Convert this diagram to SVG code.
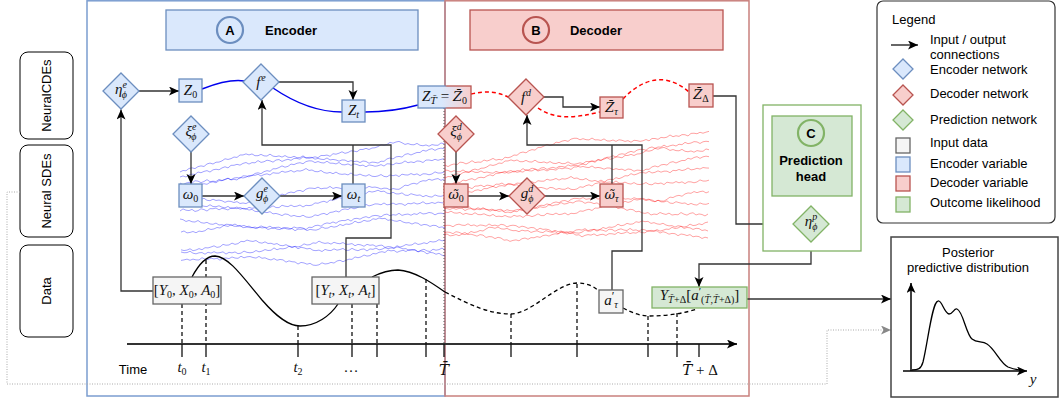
<svg xmlns="http://www.w3.org/2000/svg" width="1060" height="402" viewBox="0 0 1060 402">
  <style>
    .sans { font-family: "Liberation Sans", Arial, sans-serif; font-size: 13px; fill: #000; }
    .bold { font-weight: bold; }
    .m { font-family: "Liberation Serif", "DejaVu Serif", serif; font-size: 15px; fill: #111; }
    .acc { font-family: "DejaVu Serif", serif; }
    .i { font-style: italic; }
    .s { font-size: 10px; }
    .enc { fill: #dae8fc; stroke: #6c8ebf; stroke-width: 1.3; }
    .dec { fill: #f8cecc; stroke: #b85450; stroke-width: 1.3; }
    .prd { fill: #d5e8d4; stroke: #82b366; stroke-width: 1.3; }
    .inp { fill: #f5f5f5; stroke: #666; stroke-width: 1.3; }
    .wire { fill: none; stroke: #333; stroke-width: 1.3; }
    .arr { marker-end: url(#ah); }
    .drop { fill: none; stroke: #111; stroke-width: 1.3; stroke-dasharray: 4 3; }
    .tick { stroke: #111; stroke-width: 1.3; }
    .bw { fill: none; stroke: #0000ff; stroke-opacity: 0.45; stroke-width: 0.8; stroke-linejoin: round; }
    .rw { fill: none; stroke: #ff0000; stroke-opacity: 0.45; stroke-width: 0.8; stroke-linejoin: round; }
  </style>
  <defs>
    <marker id="ah" markerUnits="userSpaceOnUse" markerWidth="11" markerHeight="10" refX="10" refY="4.5" orient="auto">
      <path d="M0,0 L10,4.5 L0,9 L2.5,4.5 Z" fill="#000"/>
    </marker>
    <marker id="ahg" markerUnits="userSpaceOnUse" markerWidth="11" markerHeight="10" refX="10" refY="4.5" orient="auto">
      <path d="M0,0 L10,4.5 L0,9 L2.5,4.5 Z" fill="#888"/>
    </marker>
    <path id="dm" d="M0,-18 L18,0 L0,18 L-18,0 Z"/>
    <path id="dms" d="M0,-10 L10,0 L0,10 L-10,0 Z"/>
    <linearGradient id="split" x1="0" y1="0" x2="1" y2="0">
      <stop offset="0.45" stop-color="#dae8fc"/>
      <stop offset="1" stop-color="#f8cecc"/>
    </linearGradient>
    <linearGradient id="splitStroke" x1="0" y1="0" x2="1" y2="0">
      <stop offset="0.5" stop-color="#6c8ebf"/>
      <stop offset="0.55" stop-color="#b85450"/>
    </linearGradient>
    <!-- four base random-walk traces, 88 steps of 3px each -->
    <path id="wa" d="M0,0 l3 -1.2 3 0.6 3 -2.0 3 -0.3 3 1.1 3 -1.7 3 -0.4 3 0.9 3 -2.2 3 -0.6 3 1.3 3 -1.5 3 0.2 3 -0.9 3 -1.8 3 1.0 3 -0.5 3 -1.3 3 0.7 3 -2.1 3 0.3 3 -0.8 3 1.4 3 -0.7 3 2.1 3 0.3 3 -1.0 3 1.8 3 0.5 3 -1.6 3 2.3 3 0.8 3 -0.4 3 1.5 3 -1.2 3 2.0 3 0.6 3 -0.9 3 1.7 3 0.2 3 -1.4 3 2.2 3 0.9 3 -0.3 3 -0.6 3 1.2 3 -1.9 3 0.4 3 -0.2 3 1.6 3 -2.3 3 0.8 3 -0.7 3 -1.1 3 1.9 3 -0.5 3 -1.4 3 0.6 3 1.0 3 -2.0 3 0.3 3 -0.8 3 1.5 3 -1.2 3 0.1 3 -0.9 3 -1.5 3 0.7 3 -0.4 3 -1.8 3 1.2 3 -0.9 3 -0.3 3 1.7 3 2.0 3 -0.6 3 1.4 3 0.5 3 -1.1 3 2.2 3 0.8 3 -0.5 3 1.6 3 -1.3 3 0.9 3 0.4 3 -2.0 3 1.1"/>
    <path id="wb" d="M0,0 l3 0.8 3 -1.3 3 1.9 3 0.4 3 -0.6 3 2.2 3 -1.0 3 1.1 3 0.5 3 -1.7 3 2.0 3 0.3 3 -0.8 3 1.6 3 0.9 3 -1.4 3 2.3 3 -0.2 3 0.7 3 -1.1 3 1.5 3 0.6 3 -1.8 3 1.2 3 -0.5 3 2.0 3 -2.1 3 0.4 3 1.3 3 -0.9 3 -1.6 3 1.9 3 0.2 3 -2.2 3 1.1 3 0.6 3 -1.4 3 1.7 3 -0.3 3 -1.0 3 2.1 3 -1.5 3 0.5 3 -0.4 3 -2.0 3 0.5 3 -1.1 3 -0.6 3 1.4 3 -2.3 3 0.3 3 -0.8 3 -1.5 3 1.0 3 -0.4 3 -1.9 3 0.8 3 -1.2 3 0.2 3 -1.7 3 1.3 3 -0.7 3 -2.1 3 0.9 3 -0.5 3 -1.0 3 1.6 3 -0.4 3 2.2 3 0.7 3 -1.3 3 1.8 3 0.2 3 -0.9 3 2.4 3 0.5 3 -1.6 3 1.1 3 0.9 3 -0.3 3 2.0 3 -1.2 3 1.4 3 0.6 3 -2.0 3 1.3 3 0.4 3 -0.8"/>
    <path id="wc" d="M0,0 l3 2.0 3 -1.4 3 -0.5 3 1.1 3 -2.2 3 0.7 3 1.8 3 -0.9 3 -1.6 3 2.3 3 -0.2 3 0.6 3 -1.9 3 1.4 3 -0.7 3 -1.2 3 2.1 3 -0.4 3 1.0 3 -2.4 3 0.9 3 -0.5 3 -1.5 3 0.6 3 -2.1 3 -0.4 3 1.2 3 -1.8 3 -0.7 3 0.9 3 -2.3 3 0.3 3 -1.0 3 -1.4 3 1.6 3 -0.6 3 -2.0 3 0.8 3 -1.1 3 -0.3 3 1.3 3 -1.9 3 -0.5 3 0.4 3 1.9 3 -0.8 3 1.4 3 0.6 3 -1.5 3 2.2 3 0.3 3 1.0 3 -1.2 3 2.4 3 0.5 3 -0.7 3 1.8 3 -1.3 3 0.9 3 1.5 3 -0.4 3 2.0 3 -1.6 3 0.7 3 1.1 3 -0.2 3 -0.9 3 1.7 3 -2.0 3 0.4 3 1.2 3 -1.6 3 0.8 3 -0.3 3 -1.8 3 2.1 3 -0.6 3 1.0 3 -1.4 3 0.5 3 1.6 3 -2.2 3 0.2 3 0.9 3 -1.1 3 1.3 3 -0.7 3 -0.4"/>
    <path id="wd" d="M0,0 l3 -0.7 3 -1.9 3 1.0 3 -1.4 3 -0.3 3 1.5 3 -2.2 3 -0.6 3 0.8 3 -1.7 3 -0.4 3 1.2 3 -2.0 3 0.3 3 -1.1 3 -0.8 3 1.6 3 -1.5 3 -0.2 3 0.9 3 -2.3 3 0.4 3 1.1 3 -1.6 3 0.5 3 -0.9 3 2.0 3 -1.3 3 -0.5 3 1.4 3 -2.1 3 0.7 3 0.2 3 -1.8 3 1.3 3 -0.4 3 -1.0 3 1.9 3 -1.2 3 0.6 3 -0.7 3 -1.5 3 2.2 3 -0.3 3 1.8 3 0.4 3 -1.1 3 2.3 3 0.9 3 -0.6 3 1.5 3 -1.4 3 2.0 3 0.7 3 -0.2 3 1.2 3 -1.8 3 2.4 3 0.3 3 -0.9 3 1.6 3 0.8 3 -1.3 3 1.9 3 0.5 3 -0.4 3 -1.2 3 2.1 3 0.6 3 -1.7 3 1.0 3 -0.5 3 1.8 3 -2.2 3 0.9 3 0.4 3 -1.3 3 1.5 3 -0.8 3 2.0 3 -1.6 3 0.3 3 1.1 3 -0.6 3 -1.9 3 1.4 3 0.2 3 -0.7"/>
  </defs>

  <rect width="1060" height="402" fill="#fff"/>

  <!-- encoder / decoder panels -->
  <g id="panels">
    <rect x="87" y="0.8" width="358" height="395.2" fill="none" stroke="#7b9dd0" stroke-width="1.5"/>
    <rect x="445" y="0.8" width="304" height="395.2" fill="none" stroke="#c9807d" stroke-width="1.5"/>
  </g>

  <g id="encoder-header">
    <rect x="166" y="10" width="252" height="40" class="enc"/>
    <circle cx="230" cy="30" r="13" fill="#dae8fc" stroke="#6c8ebf" stroke-width="2.2"/>
    <text x="230" y="34.5" text-anchor="middle" class="sans bold">A</text>
    <text x="291" y="34.5" text-anchor="middle" class="sans bold">Encoder</text>
  </g>
  <g id="decoder-header">
    <rect x="470" y="10" width="253" height="40" class="dec"/>
    <circle cx="536" cy="30" r="13" fill="#f8cecc" stroke="#b85450" stroke-width="2.2"/>
    <text x="536" y="34.5" text-anchor="middle" class="sans bold">B</text>
    <text x="596" y="34.5" text-anchor="middle" class="sans bold">Decoder</text>
  </g>

  <!-- row labels -->
  <g id="row-cde">
    <rect x="20" y="52" width="53" height="87" rx="8" fill="#fff" stroke="#000" stroke-width="1"/>
    <text transform="translate(51,95.5) rotate(-90)" text-anchor="middle" class="sans">NeuralCDEs</text>
  </g>
  <g id="row-sde">
    <rect x="20" y="145" width="53" height="92" rx="8" fill="#fff" stroke="#000" stroke-width="1"/>
    <text transform="translate(51,191) rotate(-90)" text-anchor="middle" class="sans">Neural SDEs</text>
  </g>
  <g id="row-data">
    <rect x="20" y="245" width="53" height="92" rx="8" fill="#fff" stroke="#000" stroke-width="1"/>
    <text transform="translate(51,291) rotate(-90)" text-anchor="middle" class="sans">Data</text>
  </g>

  <!-- sample paths of the latent SDEs -->
  <g id="encoder-paths" class="bw">
    <use href="#wa" transform="translate(180,172) skewY(-6)"/>
    <use href="#wb" transform="translate(180,177) skewY(-5) scale(1,-1)"/>
    <use href="#wc" transform="translate(180,183) skewY(-5)"/>
    <use href="#wd" transform="translate(180,190) skewY(-4)"/>
    <use href="#wa" transform="translate(180,197) skewY(-4) scale(1,-1)"/>
    <use href="#wb" transform="translate(180,204) skewY(-3)"/>
    <use href="#wc" transform="translate(180,211) skewY(-2) scale(1,-1)"/>
    <use href="#wd" transform="translate(180,219) skewY(-1) scale(1,-1)"/>
    <use href="#wa" transform="translate(445,228) scale(-1,1) skewY(1)"/>
    <use href="#wb" transform="translate(445,240) scale(-1,1) skewY(1)"/>
    <use href="#wc" transform="translate(445,250) scale(-1,-1) skewY(-2)"/>
    <use href="#wd" transform="translate(445,256) scale(-1,1) skewY(-1)"/>
  </g>
  <g id="decoder-paths" class="rw">
    <use href="#wc" transform="translate(445,165) skewY(-7)"/>
    <use href="#wd" transform="translate(445,170) skewY(-6) scale(1,-1)"/>
    <use href="#wa" transform="translate(445,178) skewY(-6)"/>
    <use href="#wb" transform="translate(445,185) skewY(-5) scale(1,-1)"/>
    <use href="#wc" transform="translate(445,190) skewY(-5) scale(1,-1)"/>
    <use href="#wd" transform="translate(445,198) skewY(-4)"/>
    <use href="#wa" transform="translate(445,205) skewY(-3) scale(1,-1)"/>
    <use href="#wb" transform="translate(445,212) skewY(-3)"/>
    <use href="#wc" transform="translate(708,214) scale(-1,1) skewY(-1)"/>
    <use href="#wd" transform="translate(708,222) scale(-1,-1) skewY(-1)"/>
    <use href="#wa" transform="translate(708,231) scale(-1,1) skewY(1)"/>
    <use href="#wb" transform="translate(708,238) scale(-1,-1)"/>
  </g>

  <!-- time axis with sampling instants -->
  <g id="time-axis">
    <line x1="127" y1="344" x2="737" y2="344" stroke="#333" stroke-width="2" marker-end="url(#ah)"/>
    <path class="tick" d="M182,344V357 M206,344V357 M298,344V357 M352,344V357 M377,344V357 M426,344V357 M444,344V357 M511,344V357 M577,344V357 M648,344V357 M677,344V357 M699,344V357"/>
    <path class="drop" d="M182,304V344 M206,260V344 M298,326V344 M352,304V344 M377,304V344 M426,279V344 M511,314V344 M577,284V344 M648,316V344 M677,313V344"/>
    <line x1="444" y1="108" x2="444" y2="344" stroke="#555" stroke-width="1" stroke-dasharray="1 2"/>
    <text x="133" y="374" text-anchor="middle" class="sans">Time</text>
    <text x="182" y="372" text-anchor="middle" class="m i">t<tspan class="s" font-style="normal" dy="3">0</tspan></text>
    <text x="206" y="372" text-anchor="middle" class="m i">t<tspan class="s" font-style="normal" dy="3">1</tspan></text>
    <text x="298" y="372" text-anchor="middle" class="m i">t<tspan class="s" font-style="normal" dy="3">2</tspan></text>
    <text x="351" y="372" text-anchor="middle" class="m">…</text>
    <text x="444" y="375" text-anchor="middle" class="m i"><tspan class="acc">T̄</tspan></text>
    <text x="700" y="375" text-anchor="middle" class="m"><tspan class="i acc">T̄</tspan> + Δ</text>
  </g>

  <!-- observed trajectory -->
  <g id="trajectory" fill="none" stroke="#000" stroke-width="1.3">
    <path d="M192,277 C200,262 207,256 215,256 C229,257 242,276 262,300 C276,316 288,326 300,326 C316,326 330,316 338,304"/>
    <path d="M372,277 C382,272 390,270 398,270 C415,271 432,283 445,292"/>
    <path stroke-dasharray="4 3" d="M445,292 C470,305 490,314 510,314 C532,314 555,284 577,283 C590,283 595,288 599,291"/>
    <path stroke-dasharray="4 3" d="M623,308 C633,313 640,316 650,316 C668,316 685,313 697,309"/>
  </g>

  <!-- connectors -->
  <g id="connectors">
    <path class="wire arr" d="M153,291 H121 V109.5"/>
    <path class="wire arr" d="M139,91 H179"/>
    <path class="wire arr" d="M278,82 H353 V100"/>
    <path class="wire arr" d="M346,277 V238 H391 V145 H262 V100"/>
    <path class="wire" d="M353,184 V145"/>
    <path class="wire arr" d="M191,152 V184"/>
    <path class="wire arr" d="M202,196 H244"/>
    <path class="wire arr" d="M280,196 H342"/>
    <path class="wire arr" d="M456,152 V184"/>
    <path class="wire arr" d="M468,196 H509"/>
    <path class="wire arr" d="M545,196 H600"/>
    <path class="wire arr" d="M544,97 H563 V107 H600"/>
    <path class="wire arr" d="M612,290 V251 H642 V145 H527 V115"/>
    <path class="wire" d="M612,184 V145"/>
    <path class="wire arr" d="M713,96 H736 V224 H793"/>
    <path class="wire arr" d="M811,242 V264 H699 V287"/>
    <path class="wire arr" d="M747,299 H891" stroke="#555"/>
    <path d="M20,192 H7 V384 H827 V330 H891" fill="none" stroke="#aaa" stroke-width="1" stroke-dasharray="1 1.5" marker-end="url(#ahg)"/>
    <!-- latent CDE trajectories -->
    <path d="M202,89 C215,84 230,79 244,81" fill="none" stroke="#0000ee" stroke-width="1.5"/>
    <path d="M273,88 C295,103 320,112 342,112" fill="none" stroke="#0000ee" stroke-width="1.5"/>
    <path d="M365,112 C385,112 400,110 418,105" fill="none" stroke="#0000ee" stroke-width="1.5"/>
    <path d="M471,94 C485,91 496,91 508,97" fill="none" stroke="#ff0000" stroke-width="1.5" stroke-dasharray="4 3"/>
    <path d="M538,108 C555,120 575,118 600,112" fill="none" stroke="#ff0000" stroke-width="1.5" stroke-dasharray="4 3"/>
    <path d="M623,99 C635,86 650,78 665,80 C677,82 684,88 689,92" fill="none" stroke="#ff0000" stroke-width="1.5" stroke-dasharray="4 3"/>
  </g>

  <!-- encoder nodes -->
  <g id="eta-e">
    <use href="#dm" x="121" y="91" class="enc"/>
    <text x="121" y="94" text-anchor="middle" class="m i">η<tspan class="s" dy="-6">e</tspan><tspan class="s" dx="-5" dy="10">ϕ</tspan></text>
  </g>
  <g id="z0">
    <rect x="179" y="79" width="23" height="23" class="enc"/>
    <text x="190.5" y="95" text-anchor="middle" class="m"><tspan class="i">Z</tspan><tspan class="s" dy="3">0</tspan></text>
  </g>
  <g id="f-e">
    <use href="#dm" x="261" y="82" class="enc"/>
    <text x="261" y="87" text-anchor="middle" class="m i">f<tspan class="s" dx="1" dy="-6">e</tspan></text>
  </g>
  <g id="zt">
    <rect x="342" y="100" width="23" height="22" class="enc"/>
    <text x="353.5" y="115" text-anchor="middle" class="m i">Z<tspan class="s" dy="3">t</tspan></text>
  </g>
  <g id="xi-e">
    <use href="#dm" x="191" y="134" class="enc"/>
    <text x="191" y="136" text-anchor="middle" class="m i">ξ<tspan class="s" dy="-6">e</tspan><tspan class="s" dx="-5" dy="10">ϕ</tspan></text>
  </g>
  <g id="w0">
    <rect x="179" y="184" width="23" height="23" class="enc"/>
    <text x="190.5" y="199" text-anchor="middle" class="m"><tspan class="i">ω</tspan><tspan class="s" dy="3">0</tspan></text>
  </g>
  <g id="g-e">
    <use href="#dm" x="262" y="196" class="enc"/>
    <text x="262" y="198" text-anchor="middle" class="m i">g<tspan class="s" dy="-6">e</tspan><tspan class="s" dx="-5" dy="10">ϕ</tspan></text>
  </g>
  <g id="wt">
    <rect x="342" y="184" width="23" height="23" class="enc"/>
    <text x="353.5" y="199" text-anchor="middle" class="m i">ω<tspan class="s" dy="3">t</tspan></text>
  </g>

  <!-- hand-over state -->
  <g id="z-handover">
    <rect x="418" y="86" width="53" height="22" fill="url(#split)" stroke="url(#splitStroke)" stroke-width="1.3"/>
    <text x="444.5" y="101" text-anchor="middle" class="m"><tspan class="i">Z</tspan><tspan class="s i acc" dy="3">T̄</tspan><tspan dy="-3"> = </tspan><tspan class="i acc" font-size="13">Z̄</tspan><tspan class="s" dy="3">0</tspan></text>
  </g>

  <!-- decoder nodes -->
  <g id="f-d">
    <use href="#dm" x="526" y="97" class="dec"/>
    <text x="526" y="102" text-anchor="middle" class="m i">f<tspan class="s" dx="1" dy="-6">d</tspan></text>
  </g>
  <g id="z-tau">
    <rect x="600" y="97" width="23" height="21" class="dec"/>
    <text x="611.5" y="112" text-anchor="middle" class="m i"><tspan class="acc" font-size="13">Z̄</tspan><tspan class="s" dy="3">τ</tspan></text>
  </g>
  <g id="z-delta">
    <rect x="689" y="84" width="24" height="23" class="dec"/>
    <text x="701" y="99" text-anchor="middle" class="m"><tspan class="i acc" font-size="13">Z̄</tspan><tspan class="s" dy="3">Δ</tspan></text>
  </g>
  <g id="xi-d">
    <use href="#dm" x="456" y="134" class="dec"/>
    <text x="456" y="136" text-anchor="middle" class="m i">ξ<tspan class="s" dy="-6">d</tspan><tspan class="s" dx="-5" dy="10">ϕ</tspan></text>
  </g>
  <g id="w0-d">
    <rect x="444" y="184" width="24" height="23" class="dec"/>
    <text x="456" y="199" text-anchor="middle" class="m"><tspan class="i acc" font-size="13">ω̃</tspan><tspan class="s" dy="3">0</tspan></text>
  </g>
  <g id="g-d">
    <use href="#dm" x="527" y="196" class="dec"/>
    <text x="527" y="198" text-anchor="middle" class="m i">g<tspan class="s" dy="-6">d</tspan><tspan class="s" dx="-5" dy="10">ϕ</tspan></text>
  </g>
  <g id="wtau-d">
    <rect x="600" y="184" width="23" height="23" class="dec"/>
    <text x="611.5" y="199" text-anchor="middle" class="m i"><tspan class="acc" font-size="13">ω̃</tspan><tspan class="s" dy="3">τ</tspan></text>
  </g>

  <!-- observations -->
  <g id="obs-0">
    <rect x="153" y="277" width="68" height="27" class="inp"/>
    <text x="187" y="295" text-anchor="middle" class="m">[<tspan class="i">Y</tspan><tspan class="s" dy="3">0</tspan><tspan dy="-3">, </tspan><tspan class="i">X</tspan><tspan class="s" dy="3">0</tspan><tspan dy="-3">, </tspan><tspan class="i">A</tspan><tspan class="s" dy="3">0</tspan><tspan dy="-3">]</tspan></text>
  </g>
  <g id="obs-t">
    <rect x="312" y="277" width="67" height="27" class="inp"/>
    <text x="345.5" y="295" text-anchor="middle" class="m">[<tspan class="i">Y</tspan><tspan class="s i" dy="3">t</tspan><tspan dy="-3">, </tspan><tspan class="i">X</tspan><tspan class="s i" dy="3">t</tspan><tspan dy="-3">, </tspan><tspan class="i">A</tspan><tspan class="s i" dy="3">t</tspan><tspan dy="-3">]</tspan></text>
  </g>
  <g id="action-tau">
    <rect x="599" y="290" width="24" height="23" class="inp"/>
    <text x="611" y="305" text-anchor="middle" class="m i">a<tspan font-size="12" font-style="normal" dy="-5">′</tspan><tspan class="s" dy="8">τ</tspan></text>
  </g>

  <!-- prediction head -->
  <g id="prediction-head">
    <rect x="763" y="105" width="98" height="146" fill="#fff" stroke="#82b366" stroke-width="1.3"/>
    <rect x="772" y="116" width="80" height="80" class="prd"/>
    <circle cx="811" cy="133" r="13" fill="#d5e8d4" stroke="#82b366" stroke-width="2.2"/>
    <text x="811" y="137.5" text-anchor="middle" class="sans bold">C</text>
    <text x="811" y="165" text-anchor="middle" class="sans bold">Prediction</text>
    <text x="811" y="181" text-anchor="middle" class="sans bold">head</text>
  </g>
  <g id="eta-p">
    <use href="#dm" x="811" y="224" class="prd"/>
    <text x="811" y="226" text-anchor="middle" class="m i">η<tspan class="s" dy="-6">p</tspan><tspan class="s" dx="-5" dy="10">ϕ</tspan></text>
  </g>
  <g id="outcome">
    <rect x="652" y="287" width="95" height="21" class="prd"/>
    <text x="699.5" y="300" text-anchor="middle" class="m"><tspan class="i">Y</tspan><tspan class="s" dy="3"><tspan class="i acc" font-size="9">T̄</tspan>+Δ</tspan><tspan dy="-3">[</tspan><tspan class="i">a</tspan><tspan font-size="11" dy="-5">′</tspan><tspan class="s" dy="8">(<tspan class="i acc" font-size="9">T̄</tspan>,<tspan class="i acc" font-size="9">T̄</tspan>+Δ)</tspan><tspan dy="-3">]</tspan></text>
  </g>

  <!-- posterior predictive -->
  <g id="posterior">
    <rect x="891" y="237" width="167" height="160" fill="#fff" stroke="#444" stroke-width="1.5"/>
    <text x="968" y="257" text-anchor="middle" class="sans">Posterior</text>
    <text x="968" y="272" text-anchor="middle" class="sans">predictive distribution</text>
    <line x1="911" y1="371" x2="911" y2="283" stroke="#000" stroke-width="1.5" marker-end="url(#ah)"/>
    <line x1="903" y1="371" x2="1027" y2="371" stroke="#000" stroke-width="1.5" marker-end="url(#ah)"/>
    <path d="M912,370 C918,370 921,369 923,362 C928,342 932,302 938,301 C942,300 944,313 949,314 C953,314 954,308 957,309 C963,311 966,334 972,339 C977,343 982,341 987,344 C995,349 1000,363 1008,367 C1013,369 1017,370 1022,370" fill="none" stroke="#000" stroke-width="1.3"/>
    <text x="1033" y="384" text-anchor="middle" class="m i" font-size="18">y</text>
  </g>

  <!-- legend -->
  <g id="legend">
    <rect x="877" y="1" width="178" height="222" rx="6" fill="#fff" stroke="#333" stroke-width="1.2"/>
    <text x="892" y="24" class="sans">Legend</text>
    <line x1="891" y1="45" x2="918" y2="45" stroke="#000" stroke-width="1.2" marker-end="url(#ah)"/>
    <text x="930" y="44" class="sans">Input / output</text>
    <text x="930" y="59" class="sans">connections</text>
    <use href="#dms" x="903" y="69" class="enc"/>
    <text x="930" y="74" class="sans">Encoder network</text>
    <use href="#dms" x="903" y="95" class="dec"/>
    <text x="930" y="98" class="sans">Decoder network</text>
    <use href="#dms" x="903" y="120" class="prd"/>
    <text x="930" y="124" class="sans">Prediction network</text>
    <rect x="896" y="138" width="14" height="15" class="inp"/>
    <text x="930" y="147" class="sans">Input data</text>
    <rect x="896" y="157" width="14" height="15" class="enc"/>
    <text x="930" y="168" class="sans">Encoder variable</text>
    <rect x="896" y="176" width="14" height="15" class="dec"/>
    <text x="930" y="187" class="sans">Decoder variable</text>
    <rect x="896" y="197" width="14" height="15" class="prd"/>
    <text x="930" y="207" class="sans">Outcome likelihood</text>
  </g>
</svg>
